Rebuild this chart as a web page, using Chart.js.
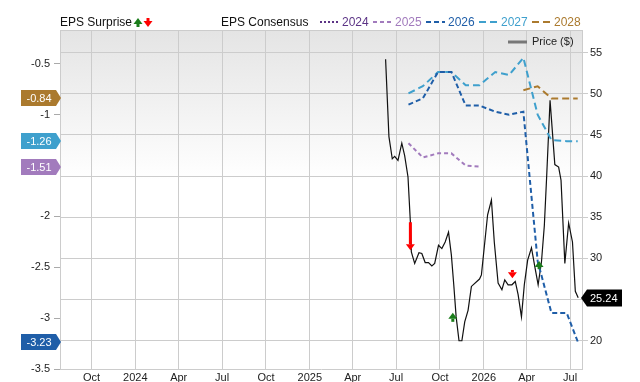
<!DOCTYPE html>
<html>
<head>
<meta charset="utf-8">
<script src="https://cdn.jsdelivr.net/npm/chart.js@4.4.1/dist/chart.umd.min.js"></script>
<style>
  html, body { margin: 0; padding: 0; background: #fff; }
</style>
</head>
<body>
<canvas id="epsChart" width="640" height="382"></canvas>
<script>
// data

const priceDates = ['2025-06-09','2025-06-16','2025-06-23','2025-06-28','2025-07-05','2025-07-13','2025-07-19','2025-07-26','2025-07-31','2025-08-02',
  '2025-08-09','2025-08-18','2025-08-24','2025-08-31','2025-09-07','2025-09-14','2025-09-20','2025-09-28','2025-10-05','2025-10-12',
  '2025-10-19','2025-10-25','2025-10-30','2025-11-04','2025-11-10','2025-11-16','2025-11-22','2025-11-29','2025-12-06','2025-12-23',
  '2025-12-27','2026-01-09','2026-01-17','2026-01-23','2026-01-31','2026-02-08','2026-02-14','2026-02-21','2026-03-01','2026-03-08',
  '2026-03-14','2026-03-21','2026-03-27','2026-04-03','2026-04-11','2026-04-18','2026-04-25','2026-05-02','2026-05-08','2026-05-13',
  '2026-05-20','2026-05-30','2026-06-07','2026-06-12','2026-06-20','2026-06-28','2026-07-06','2026-07-12','2026-07-18']
const priceValues = [54.2, 44.8, 42.1, 42.4, 41.9, 44.0, 42.5, 39.9, 34.4, 30.8,
  29.4, 30.7, 30.6, 29.5, 29.5, 29.1, 29.4, 31.6, 31.2, 32.0,
  33.2, 30.4, 26.8, 22.9, 20.0, 20.0, 22.3, 23.7, 26.6, 27.5,
  28.0, 35.3, 37.1, 32.0, 27.0, 26.2, 27.4, 26.8, 26.8, 27.2,
  25.6, 22.9, 26.8, 29.8, 31.3, 29.0, 26.8, 29.6, 34.0, 40.1,
  49.2, 41.4, 41.1, 39.5, 29.4, 34.3, 32.0, 26.0, 25.24]

const consDates = ['2025-07-27','2025-08-26','2025-09-27','2025-10-25','2025-11-24','2025-12-23','2026-01-25',
  '2026-02-23','2026-03-25','2026-04-24','2026-05-23','2026-06-24','2026-07-17']
const eps2024 = []
const eps2025 = [-1.28, -1.42, -1.38, -1.38, -1.50, -1.51, null, null, null, null, null, null, null]
const eps2026 = [-0.90, -0.84, -0.58, -0.58, -0.91, -0.91, -0.97, -1.00, -0.97, -2.44, -2.95, -2.95, -3.23]
const eps2027 = [-0.79, -0.72, -0.58, -0.58, -0.71, -0.71, -0.58, -0.61, -0.44, -1.00, -1.25, -1.26, -1.26]
const eps2028 = [null, null, null, null, null, null, null, null, -0.76, -0.72, -0.84, -0.84, -0.84]

// eps surprise arrows (price axis), up = beat, down = miss
const surpriseDates = ['2025-07-31', '2025-10-28', '2026-03-02', '2026-04-27']
const surpriseDir = ['down', 'up', 'down', 'up']
const surpriseFrom = [34.4, 22.3, 28.6, 28.7]
const surpriseTo = [31.0, 23.4, 27.6, 29.7]

const xTickDates = ['2023-10-01','2024-01-01','2024-04-01','2024-07-01','2024-10-01','2025-01-01',
  '2025-04-01','2025-07-01','2025-10-01','2026-01-01','2026-04-01','2026-07-01']
const xTickLabels = ['Oct','2024','Apr','Jul','Oct','2025','Apr','Jul','Oct','2026','Apr','Jul']
const epsTicks = [-3.5, -3, -2.5, -2, -1, -0.5]
const priceTicks = [20, 25, 30, 35, 40, 45, 50, 55]

const FONT = '"Liberation Sans", Arial, sans-serif'
const yearColors = { 2024: '#5c3486', 2025: '#a27bbd', 2026: '#1f5ea8', 2027: '#3fa0cd', 2028: '#ab7a2e' }
const yearDash = { 2024: [2, 2], 2025: [4, 3], 2026: [5, 3], 2027: [7, 4], 2028: [7, 4] }

const dayOf = s => {
  const [y, m, d] = s.split('-').map(Number)
  return Date.UTC(y, m - 1, d) / 86400000
}
const pts = (dates, vals) => dates.map((d, i) => ({ x: dayOf(d), y: vals[i] })).filter(p => p.y !== null && p.y !== undefined)

const consSeries = { 2024: eps2024, 2025: eps2025, 2026: eps2026, 2027: eps2027, 2028: eps2028 }
const consDatasets = Object.keys(consSeries).map(yr => ({
  label: yr,
  data: pts(consDates, consSeries[yr]),
  yAxisID: 'yEps',
  borderColor: yearColors[yr],
  borderDash: yearDash[yr],
  borderWidth: 2,
  pointRadius: 0,
  fill: false
}))

function drawArrow(ctx, x, yTail, yTip, color) {
  const dir = yTip > yTail ? 1 : -1
  const headLen = 6, headW = 4.5
  ctx.fillStyle = color
  ctx.fillRect(x - 1.5, Math.min(yTail, yTip - dir * headLen), 3, Math.abs(yTip - dir * headLen - yTail))
  ctx.beginPath()
  ctx.moveTo(x - headW, yTip - dir * headLen)
  ctx.lineTo(x + headW, yTip - dir * headLen)
  ctx.lineTo(x, yTip)
  ctx.closePath()
  ctx.fill()
}

const decor = {
  id: 'decor',
  beforeDraw(chart) {
    const { ctx, chartArea: a } = chart
    const g = ctx.createLinearGradient(0, a.top, 0, a.top + 150)
    g.addColorStop(0, '#e4e4e4')
    g.addColorStop(1, '#ffffff')
    ctx.save()
    ctx.fillStyle = g
    ctx.fillRect(a.left, a.top, a.right - a.left, a.bottom - a.top)
    ctx.restore()
  },
  afterDraw(chart) {
    const { ctx, chartArea: a, scales } = chart
    ctx.save()
    // top border
    ctx.strokeStyle = '#cccccc'
    ctx.lineWidth = 1
    ctx.beginPath()
    ctx.moveTo(a.left, a.top + 0.5)
    ctx.lineTo(a.right, a.top + 0.5)
    ctx.stroke()

    // surprise arrows
    surpriseDates.forEach((d, i) => {
      const x = scales.x.getPixelForValue(dayOf(d))
      const y0 = scales.yPrice.getPixelForValue(surpriseDir[i] === 'down' ? surpriseFrom[i] : surpriseFrom[i])
      const y1 = scales.yPrice.getPixelForValue(surpriseTo[i])
      drawArrow(ctx, x, y0, y1, surpriseDir[i] === 'down' ? '#ff0000' : '#1b7d1b')
    })

    // left value tags for consensus
    ctx.font = '11px ' + FONT
    ctx.textBaseline = 'middle'
    Object.keys(consSeries).forEach(yr => {
      const vals = consSeries[yr].filter(v => v !== null)
      if (!vals.length) return
      const last = vals[vals.length - 1]
      const y = Math.round(scales.yEps.getPixelForValue(last))
      ctx.fillStyle = yearColors[yr]
      ctx.beginPath()
      ctx.moveTo(21, y - 8)
      ctx.lineTo(56, y - 8)
      ctx.lineTo(61, y)
      ctx.lineTo(56, y + 8)
      ctx.lineTo(21, y + 8)
      ctx.closePath()
      ctx.fill()
      ctx.fillStyle = '#ffffff'
      ctx.textAlign = 'center'
      ctx.fillText(last.toFixed(2), 39, y + 0.5)
    })

    // right price tag
    const lastPrice = priceValues[priceValues.length - 1]
    const py = Math.round(scales.yPrice.getPixelForValue(lastPrice))
    ctx.fillStyle = '#000000'
    ctx.beginPath()
    ctx.moveTo(581, py)
    ctx.lineTo(587, py - 8.5)
    ctx.lineTo(622, py - 8.5)
    ctx.lineTo(622, py + 8.5)
    ctx.lineTo(587, py + 8.5)
    ctx.closePath()
    ctx.fill()
    ctx.fillStyle = '#ffffff'
    ctx.textAlign = 'left'
    ctx.fillText(lastPrice.toFixed(2), 590, py + 0.5)

    // legend row
    ctx.font = '12px ' + FONT
    ctx.fillStyle = '#111111'
    ctx.textAlign = 'left'
    ctx.fillText('EPS Surprise', 60, 23)
    drawArrow(ctx, 138, 27, 18, '#1b7d1b')
    drawArrow(ctx, 148, 18, 27, '#ff0000')
    ctx.fillStyle = '#111111'
    ctx.fillText('EPS Consensus', 221, 23)
    let lx = 320
    Object.keys(consSeries).forEach(yr => {
      ctx.strokeStyle = yearColors[yr]
      ctx.lineWidth = 2
      ctx.setLineDash(yearDash[yr])
      ctx.beginPath()
      ctx.moveTo(lx, 22)
      ctx.lineTo(lx + 19, 22)
      ctx.stroke()
      ctx.setLineDash([])
      ctx.fillStyle = yearColors[yr]
      ctx.fillText(yr, lx + 22, 23)
      lx += 53
    })

    // price legend inside plot
    ctx.strokeStyle = '#777777'
    ctx.lineWidth = 3
    ctx.beginPath()
    ctx.moveTo(508, 42)
    ctx.lineTo(527, 42)
    ctx.stroke()
    ctx.font = '11px ' + FONT
    ctx.fillStyle = '#222222'
    ctx.fillText('Price ($)', 532, 42)
    ctx.restore()
  }
}

new Chart(document.getElementById('epsChart'), {
  type: 'line',
  data: {
    datasets: [
      ...consDatasets,
      {
        label: 'Price ($)',
        data: pts(priceDates, priceValues),
        yAxisID: 'yPrice',
        borderColor: '#111111',
        borderWidth: 1.2,
        pointRadius: 0,
        tension: 0,
        fill: false
      }
    ]
  },
  options: {
    responsive: false,
    animation: false,
    layout: { padding: { top: 30, left: 0, right: 0, bottom: 0 } },
    plugins: { legend: { display: false }, tooltip: { enabled: false } },
    scales: {
      x: {
        type: 'linear',
        min: dayOf('2023-07-27'),
        max: dayOf('2026-07-26'),
        afterBuildTicks: s => { s.ticks = xTickDates.map(d => ({ value: dayOf(d) })) },
        afterFit: s => { s.height = 13 },
        grid: { color: '#cccccc', drawTicks: false },
        border: { color: '#cccccc' },
        ticks: {
          autoSkip: false, maxRotation: 0, padding: 2, color: '#222222',
          font: { family: FONT, size: 11 },
          callback: (v, i) => xTickLabels[i]
        }
      },
      yEps: {
        type: 'linear',
        position: 'left',
        min: -3.5,
        max: -0.167,
        afterBuildTicks: s => { s.ticks = epsTicks.map(v => ({ value: v })) },
        afterFit: s => { s.width = 60 },
        grid: { drawOnChartArea: false, color: '#aaaaaa', tickLength: 6 },
        border: { color: '#cccccc' },
        ticks: { padding: 4, color: '#222222', font: { family: FONT, size: 11 }, callback: v => String(v) }
      },
      yPrice: {
        type: 'linear',
        position: 'right',
        min: 16.57,
        max: 57.75,
        afterBuildTicks: s => { s.ticks = priceTicks.map(v => ({ value: v })) },
        afterFit: s => { s.width = 58 },
        grid: { color: '#cccccc', tickLength: 6 },
        border: { color: '#cccccc' },
        ticks: {
          padding: 2, color: '#222222', font: { family: FONT, size: 11 },
          callback: v => (v === 25 ? '' : String(v))
        }
      }
    }
  },
  plugins: [decor]
})
</script>
</body>
</html>
